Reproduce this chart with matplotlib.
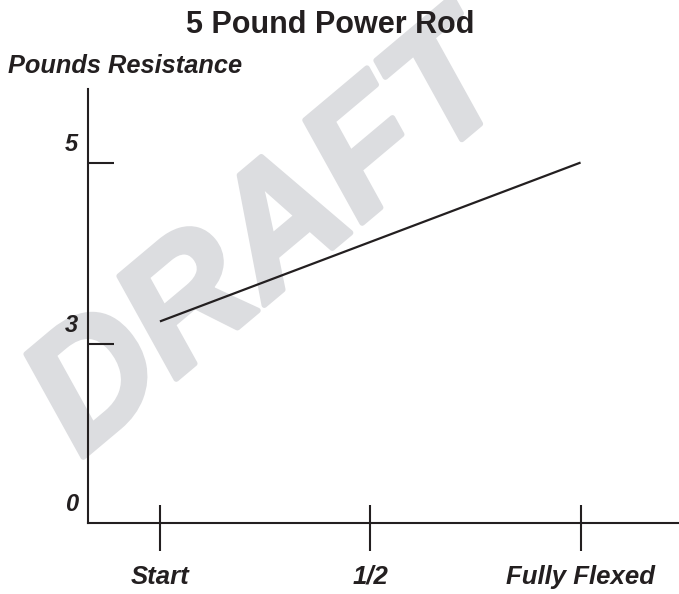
import numpy as np
import matplotlib
matplotlib.use('Agg')
import matplotlib.pyplot as plt
from matplotlib import transforms
import matplotlib.patheffects as pe

# chart data
stages = ['Start', '1/2', 'Fully Flexed']
stage_pos = [0, 0.5, 1]
resistance = [3.25, 5]          # pounds, start -> fully flexed
line_x = [0, 1]
y_ticks = [0, 3, 5]
y_tick_labels = ['0', '3', '5']

INK = '#231f20'
plt.rcParams['font.family'] = ['Liberation Sans', 'DejaVu Sans']

# the drawing squeezes the 0-3 span, so the axis is piecewise linear
y_knots = [0, 3, 5, 10]
px_knots = [0, 179, 360.7, 815]

def fwd(v):
    return np.interp(v, y_knots, px_knots)

def inv(v):
    return np.interp(v, px_knots, y_knots)

fig = plt.figure(figsize=(6.79, 5.94), dpi=100)
ax = fig.add_axes([88 / 679, 71 / 594, 1 - 88 / 679, (523 - 89) / 594])
ax.patch.set_visible(False)

ax.set_yscale('function', functions=(fwd, inv))
ax.set_xlim(-0.171, 1.234)
ax.set_ylim(0, 5.81)

ax.plot(line_x, resistance, color=INK, lw=1.6, solid_capstyle='butt', zorder=3)

for s in ['top', 'right']:
    ax.spines[s].set_visible(False)
for s in ['left', 'bottom']:
    ax.spines[s].set_linewidth(1.5)
    ax.spines[s].set_color(INK)

# y ticks: inward marks at 3 and 5, labels sit above-left of the mark
ax.set_yticks([t for t in y_ticks if t > 0])
ax.yaxis.set_minor_locator(matplotlib.ticker.NullLocator())
ax.tick_params(axis='y', direction='in', length=19, width=1.5, color=INK, labelleft=False)
off = transforms.ScaledTranslation(-0.10, 0.07, fig.dpi_scale_trans)
ytrans = transforms.blended_transform_factory(ax.transAxes, ax.transData) + off
for v, lab in zip(y_ticks, y_tick_labels):
    ax.text(0, v, lab, transform=ytrans, ha='right', va='bottom',
            fontsize=17, fontweight='bold', fontstyle='italic', color=INK)

# x ticks cross the axis: long part below, short part above
ax.set_xticks(stage_pos)
ax.set_xticklabels(stages, fontsize=18.5, fontweight='bold', fontstyle='italic', color=INK)
ax.tick_params(axis='x', which='major', direction='out', length=20, width=1.5, color=INK, pad=10)
ax.set_xticks(stage_pos, minor=True)
ax.xaxis.remove_overlapping_locs = False
ax.tick_params(axis='x', which='minor', direction='in', length=13, width=1.5, color=INK)

fig.text(330 / 679, 1 - 33 / 594, '5 Pound Power Rod', ha='center', va='baseline',
         fontsize=22, fontweight='bold', color=INK)
fig.text(8 / 679, 1 - 73 / 594, 'Pounds Resistance', ha='left', va='baseline',
         fontsize=18.3, fontweight='bold', fontstyle='italic', color=INK)

# watermark, anchored at the start of its baseline
fig.text(81 / 679, 1 - 459 / 594, 'DRAFT', ha='left', va='baseline', rotation=40,
         rotation_mode='anchor', fontsize=121, fontweight='bold', fontstyle='italic',
         color='#dcdde0', zorder=-5,
         path_effects=[pe.withStroke(linewidth=4, foreground='#dcdde0')])

fig.savefig('out.png', dpi=100)
